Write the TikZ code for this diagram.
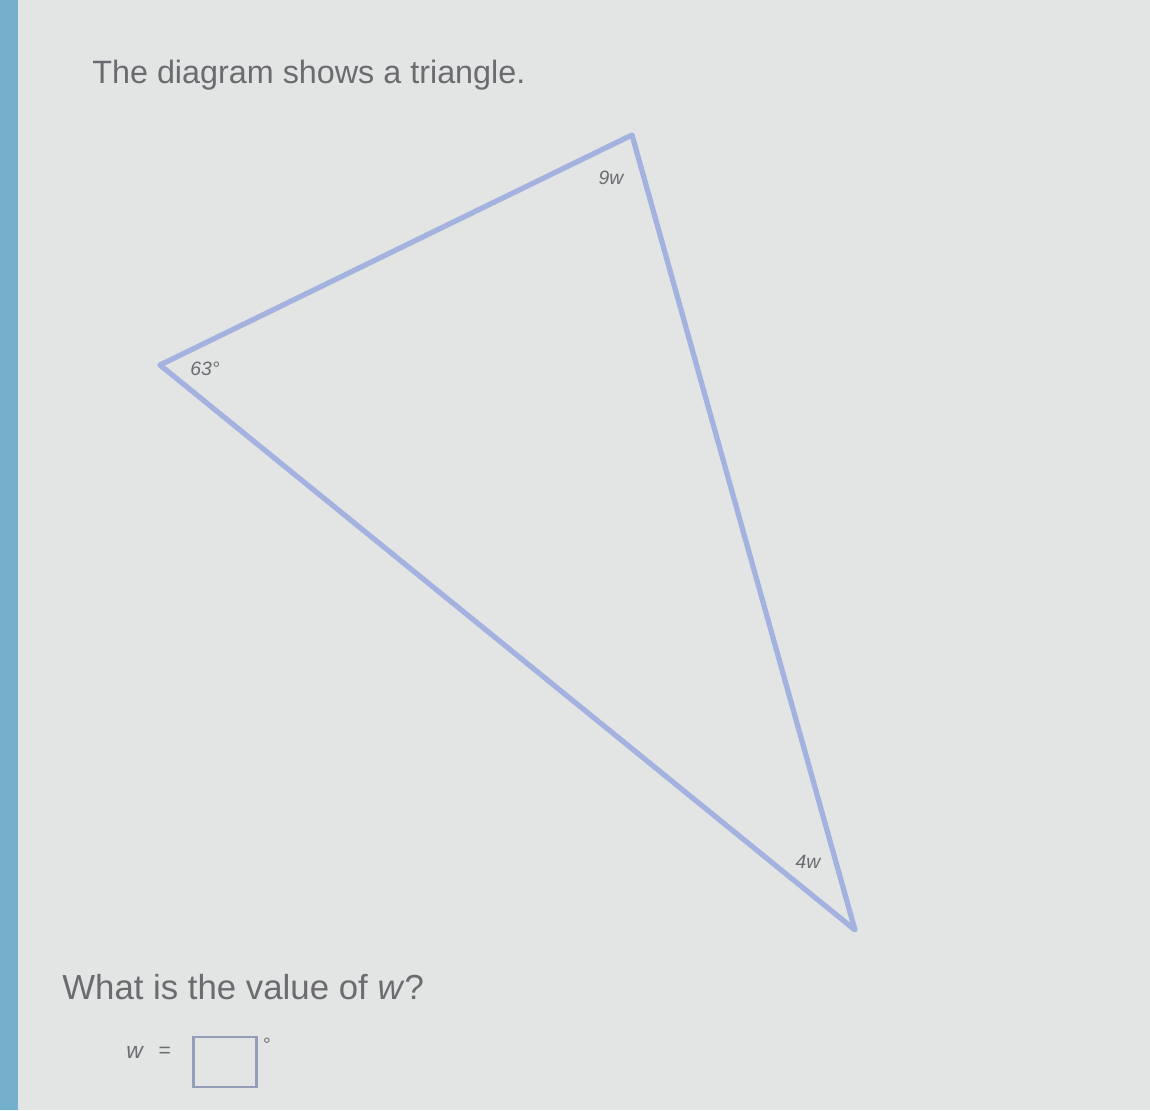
\documentclass[tikz,border=0pt]{standalone}
\usepackage{fontspec}
\setmainfont{Liberation Sans}
\usetikzlibrary{positioning}
\definecolor{screen}{rgb}{0.89, 0.9, 0.9}
\definecolor{mblue}{rgb}{0.64, 0.7, 0.87}
\definecolor{sidebar}{rgb}{0.45, 0.69, 0.8}
\definecolor{ink}{rgb}{0.42, 0.42, 0.44}
\tikzset{side/.style = {draw = mblue, line width = 3pt, line join = round}}
\tikzset{angl/.style = {text = ink, font = \fontsize{11}{12}\selectfont\itshape, inner sep = 0}}
\tikzset{prose/.style = {text = ink, anchor = west, inner sep = 0}}

\begin{document}
\begin{tikzpicture}[x = 0.02cm, y = -0.02cm]
    \fill [screen] (0, 0) rectangle (1150, 1110);
    \useasboundingbox (0, 0) rectangle (1150, 1110);
    \fill [sidebar] (0, 0) rectangle (18, 1110);

    \node [prose, font = \fontsize{18.4}{21}\selectfont] (title) at (92, 75) {The diagram shows a triangle.};

    \coordinate (top) at (632, 135);
    \coordinate (left) at (160, 365);
    \coordinate (bottom) at (855, 930);
    \draw [side] (top) -- (left) -- (bottom) -- cycle;

    \node [angl] (ta) at (611, 178) {9w};
    \node [angl] (la) at (205, 369) {63°};
    \node [angl] (ba) at (808, 862) {4w};

    \node [prose, font = \fontsize{19.8}{23}\selectfont] (ask) at (62, 987) {What is the value of \textit{w}?};

    \node [angl, font = \fontsize{13}{15}\selectfont\itshape, anchor = west] (var) at (126, 1052) {w};
    \node [right = 0.3cm of var, angl, font = \fontsize{12}{14}\selectfont] (eq) {=};
    \node [draw = mblue!60!gray, line width = 1.5pt, minimum width = 1.25cm, minimum height = 1.0cm]
        (box) at (225, 1062) {};
    \node [angl, anchor = west] (deg) at (262, 1045) {°};
\end{tikzpicture}
\end{document}
